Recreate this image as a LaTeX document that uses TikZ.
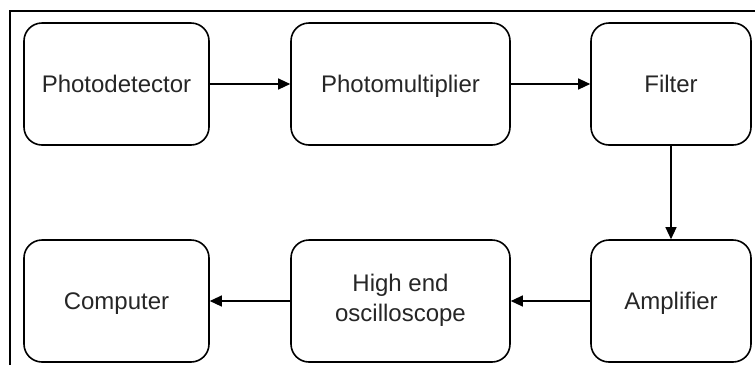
\documentclass[tikz,border=0pt]{standalone}
\usepackage{fontspec}
\setmainfont{Liberation Sans}
\usetikzlibrary{arrows.meta}
\newcommand{\linestrut}{\rule[-6.5pt]{0pt}{29pt}}

\begin{document}
\begin{tikzpicture}[x=1pt, y=-1pt,
  blk/.style={draw, line width=1.6pt, rounded corners=18pt, minimum height=122pt, align=center, font=\fontsize{24}{30}\selectfont, text=black!85, execute at begin node=\linestrut, execute at end node=\linestrut},
  link/.style={-{Triangle[length=12pt, width=11pt]}, line width=1.2pt}]
\useasboundingbox (0,0) rectangle (755,365);

%outer frame
\draw [line width=1.5pt] (10,365) -- (10,11) -- (755,11);

%top row blocks
\node [blk, minimum width=185pt] (photodet) at (116.5,84) {Photodetector};
\node [blk, minimum width=219pt] (photomult) at (400.5,84) {Photomultiplier};
\node [blk, minimum width=160pt] (filter) at (671,84) {Filter};

%bottom row blocks
\node [blk, minimum width=185pt] (computer) at (116.5,301) {Computer};
\node [blk, minimum width=219pt] (scope) at (400.5,301) {High end\\oscilloscope};
\node [blk, minimum width=160pt] (amp) at (671,301) {Amplifier};

%signal path
\draw [link] (photodet) -- (photomult);
\draw [link] (photomult) -- (filter);
\draw [link] (filter) -- (amp);
\draw [link] (amp) -- (scope);
\draw [link] (scope) -- (computer);

\end{tikzpicture}
\end{document}
